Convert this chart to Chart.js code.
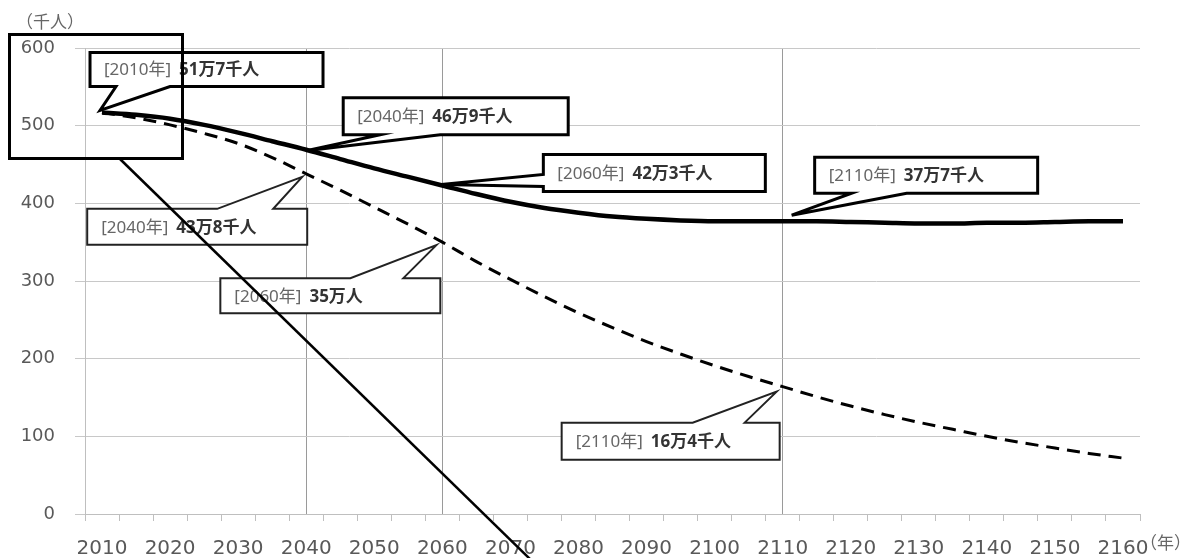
<!DOCTYPE html>
<html>
<head>
<meta charset="utf-8">
<script src="https://cdn.jsdelivr.net/npm/chart.js@4/dist/chart.umd.min.js"></script>
<style>
	html, body { margin: 0; padding: 0; background: #fff; }
	canvas { display: block; }
</style>
</head>
<body>
<canvas id="mycanvas" width="1197" height="558"></canvas>
<script>
// data (thousand persons)
var years = [2010, 2015, 2020, 2025, 2030, 2035, 2040, 2045, 2050, 2055, 2060, 2065, 2070, 2075, 2080, 2085,
	2090, 2095, 2100, 2105, 2110, 2115, 2120, 2125, 2130, 2135, 2140, 2145, 2150, 2155, 2160];
var solidVals = [517, 514, 509, 501, 491, 480, 469, 457, 445, 434, 423, 412, 402, 394, 388, 383,
	380, 378, 377, 377, 377, 377, 376, 375, 374, 374, 375, 375, 376, 377, 377];
var dashedVals = [517, 510, 501, 490, 477, 459, 438, 417, 395, 373, 350, 325, 302, 280, 259, 240,
	222, 206, 191, 177, 164, 151, 139, 128, 118, 109, 100, 92, 85, 78, 72];

var xLabelYears = [2010, 2020, 2030, 2040, 2050, 2060, 2070, 2080, 2090, 2100, 2110, 2120, 2130, 2140, 2150, 2160];
var xTickMarks = [2007.5, 2012.5, 2017.5, 2022.5, 2027.5, 2032.5, 2037.5, 2042.5, 2047.5, 2052.5, 2057.5,
	2062.5, 2067.5, 2072.5, 2077.5, 2082.5, 2087.5, 2092.5, 2097.5, 2102.5, 2107.5, 2112.5, 2117.5,
	2122.5, 2127.5, 2132.5, 2137.5, 2142.5, 2147.5, 2152.5, 2157.5, 2162.5];
var guideYears = [2040, 2060, 2110];
var yTicks = [0, 100, 200, 300, 400, 500, 600];
var yUnit = '（千人）';
var xUnit = '（年）';

// callouts: which series / year; geometry is relative to the data point
var callouts = [
	{ series: 0, year: 2010, box: [-12, -60, 233, 34], edge: 'bottom', base: [26, 80], tip: [-2, -2] },
	{ series: 0, year: 2040, box: [37, -52, 225, 37], edge: 'bottom', base: [37, 97], tip: [0, 1] },
	{ series: 0, year: 2060, box: [101, -31, 222, 37], edge: 'left', base: [20, 32], tip: [-1, -1] },
	{ series: 0, year: 2110, box: [32, -64, 223, 36], edge: 'bottom', base: [37, 92], tip: [9, -6] },
	{ series: 1, year: 2040, box: [-219, 35, 220, 36], edge: 'top', base: [130, 186], tip: [-4, 3] },
	{ series: 1, year: 2060, box: [-222, 36, 220, 35], edge: 'top', base: [130, 183], tip: [-6, 3] },
	{ series: 1, year: 2110, box: [-221, 36, 218, 37], edge: 'top', base: [131, 183], tip: [-6, 5] }
];

function toPoints(vals) {
	return years.map(function(yr, i) { return { x: yr, y: vals[i] }; });
}

function valueText(v) {
	var man = Math.floor(v / 10), sen = v % 10;
	return man + '万' + (sen ? sen + '千' : '') + '人';
}

var jp = '"Noto Sans", "Noto Sans CJK JP", sans-serif';

var calloutPlugin = {
	id: 'callouts',
	afterDraw: function(chart) {
		var ctx = chart.ctx;
		var xs = chart.scales.x, ys = chart.scales.y;
		var seriesVals = [solidVals, dashedVals];

		callouts.forEach(function(c) {
			var v = seriesVals[c.series][years.indexOf(c.year)];
			var px = xs.getPixelForValue(c.year), py = ys.getPixelForValue(v);
			var bx = px + c.box[0], by = py + c.box[1], bw = c.box[2], bh = c.box[3];
			var tx = px + c.tip[0], ty = py + c.tip[1];

			ctx.save();
			ctx.beginPath();
			ctx.moveTo(bx, by);
			if (c.edge === 'top') {
				ctx.lineTo(bx + c.base[0], by);
				ctx.lineTo(tx, ty);
				ctx.lineTo(bx + c.base[1], by);
			}
			ctx.lineTo(bx + bw, by);
			ctx.lineTo(bx + bw, by + bh);
			if (c.edge === 'bottom') {
				ctx.lineTo(bx + c.base[1], by + bh);
				ctx.lineTo(tx, ty);
				ctx.lineTo(bx + c.base[0], by + bh);
			}
			ctx.lineTo(bx, by + bh);
			if (c.edge === 'left') {
				ctx.lineTo(bx, by + c.base[1]);
				ctx.lineTo(tx, ty);
				ctx.lineTo(bx, by + c.base[0]);
			}
			ctx.closePath();
			ctx.fillStyle = '#fff';
			ctx.fill();
			ctx.lineJoin = 'miter';
			ctx.lineWidth = c.series === 0 ? 3 : 2;
			ctx.strokeStyle = c.series === 0 ? '#000' : '#222';
			ctx.stroke();

			// text
			var head = '[' + c.year + '年]';
			ctx.textBaseline = 'middle';
			ctx.textAlign = 'left';
			ctx.font = '17px ' + jp;
			ctx.fillStyle = '#666';
			var ty2 = by + bh / 2 + 1;
			ctx.fillText(head, bx + 14, ty2);
			var w = ctx.measureText(head).width;
			ctx.font = 'bold 17px ' + jp;
			ctx.fillStyle = '#333';
			ctx.fillText(valueText(v), bx + 14 + w + 8, ty2);
			ctx.restore();
		});

		// unit labels
		ctx.save();
		ctx.font = '17px "Noto Sans CJK JP", sans-serif';
		ctx.fillStyle = '#666';
		ctx.textBaseline = 'middle';
		ctx.textAlign = 'left';
		ctx.fillText(yUnit, 16, 22);
		ctx.fillText(xUnit, 1140, 543);

		// magnifier marks drawn over the source picture
		ctx.strokeStyle = '#000';
		ctx.lineWidth = 3;
		ctx.strokeRect(9.5, 34.5, 173, 124);
		ctx.lineWidth = 2.5;
		ctx.beginPath();
		ctx.moveTo(120, 159);
		ctx.lineTo(531, 560);
		ctx.stroke();
		ctx.restore();
	}
};

var ctx = document.getElementById('mycanvas');

var lineGraph = new Chart(ctx, {
	type: 'line',
	data: {
		datasets: [
			{
				label: 'solid',
				data: toPoints(solidVals),
				borderColor: '#000',
				borderWidth: 4.5,
				pointRadius: 0,
				cubicInterpolationMode: 'monotone',
				fill: false
			},
			{
				label: 'dashed',
				data: toPoints(dashedVals),
				borderColor: '#000',
				borderWidth: 3,
				borderDash: [13, 8],
				pointRadius: 0,
				cubicInterpolationMode: 'monotone',
				fill: false
			}
		]
	},
	options: {
		responsive: false,
		animation: false,
		layout: { padding: { top: 48, right: 57, left: 0, bottom: 0 } },
		plugins: {
			legend: { display: false },
			tooltip: { enabled: false }
		},
		scales: {
			x: {
				type: 'linear',
				min: 2007.5,
				max: 2162.5,
				afterBuildTicks: function(scale) {
					var vals = xTickMarks.concat(xLabelYears).sort(function(a, b) { return a - b; });
					scale.ticks = vals.map(function(v) { return { value: v }; });
				},
				afterFit: function(scale) { scale.height = 44; },
				ticks: {
					autoSkip: false,
					maxRotation: 0,
					padding: 16,
					color: '#595959',
					font: { family: '"DejaVu Sans"', size: 20 },
					callback: function(value) {
						return xLabelYears.indexOf(value) >= 0 ? String(value) : '';
					}
				},
				grid: {
					lineWidth: 1,
					tickLength: 7,
					color: function(c) {
						return c.tick && guideYears.indexOf(c.tick.value) >= 0 ? '#9a9a9a' : 'rgba(0,0,0,0)';
					},
					tickColor: function(c) {
						return c.tick && xTickMarks.indexOf(c.tick.value) >= 0 ? '#bfbfbf' : 'rgba(0,0,0,0)';
					}
				},
				border: { color: '#bfbfbf' }
			},
			y: {
				min: 0,
				max: 600,
				afterBuildTicks: function(scale) {
					scale.ticks = yTicks.map(function(v) { return { value: v }; });
				},
				afterFit: function(scale) { scale.width = 85; },
				ticks: {
					padding: 20,
					color: '#595959',
					font: { family: '"DejaVu Sans"', size: 18 }
				},
				grid: { color: '#c8c8c8', tickLength: 10, tickColor: '#c8c8c8' },
				border: { color: '#bfbfbf' }
			}
		}
	},
	plugins: [calloutPlugin]
});
</script>
</body>
</html>
